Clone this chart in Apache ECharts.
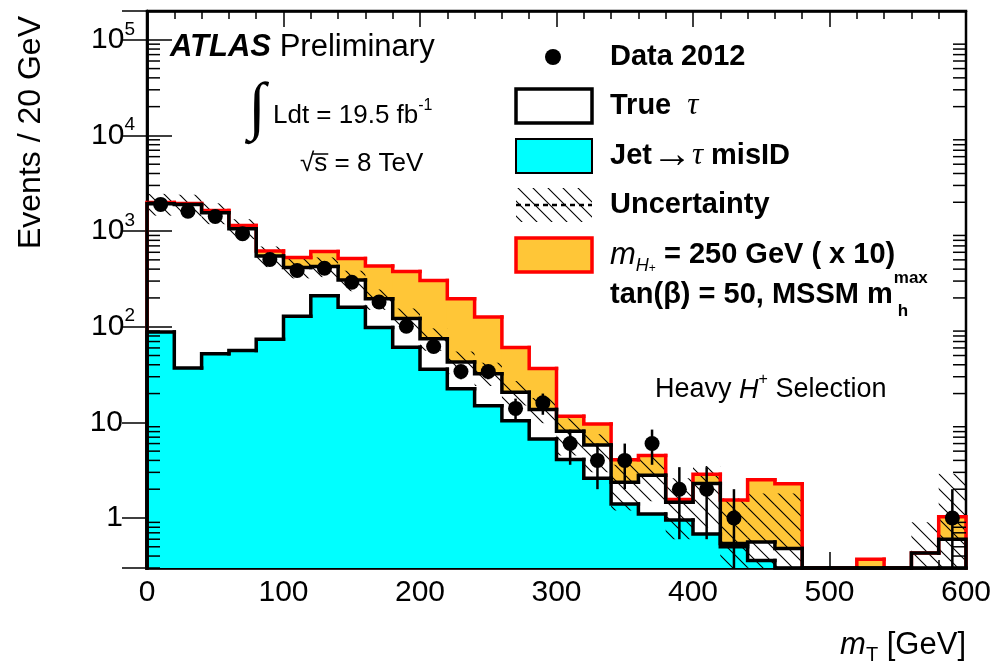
<!DOCTYPE html>
<html>
<head>
<meta charset="utf-8">
<title>mT heavy H+ selection</title>
<script src="https://cdn.jsdelivr.net/npm/echarts@6/dist/echarts.min.js"></script>
<style>
  html, body { margin: 0; padding: 0; background: #fff; }
  #chart { width: 997px; height: 666px; }
</style>
</head>
<body>
<div id="chart"></div>
<script>
// lower edges of the 20 GeV bins
const binLow = [0, 20, 40, 60, 80, 100, 120, 140, 160, 180, 200, 220, 240, 260, 280,
  300, 320, 340, 360, 380, 400, 420, 440, 460, 480, 500, 520, 540, 560, 580];

// stacked backgrounds (events / 20 GeV)
const jetFake = [88, 37, 52, 56.5, 74, 129, 211, 160, 98, 61, 36, 22.4, 14.9, 10.4, 6.7,
  4.1, 2.6, 1.4, 1.1, 0.95, 0.68, 0.5, 0.36, 0, 0, 0, 0, 0, 0, 0];
const trueTau = [1840, 1860, 1500, 1000, 476, 288, 216, 147, 98, 61, 39, 20.3, 17.4, 10.3, 6.9,
  3.95, 3.2, 0.97, 1.7, 0.51, 1.61, 0.04, 0.2, 0.48, 0, 0, 0, 0, 0.43, 0.6];
// signal m_H+ = 250 GeV, scaled x10, stacked on top
const signalX10 = [62, 48, 88, 88, 70, 113, 185, 210, 236, 256, 230, 153, 94, 40, 23,
  3.5, 3.8, 1.7, 1.7, 0.1, 0.57, 1.0, 1.95, 1.8, 0, 0, 0.37, 0, 0, 0.43];

// data 2012 with error bars
const data2012 = [1900, 1610, 1420, 940, 505, 387, 409, 292, 181, 101, 62, 34, 34, 14, 16,
  6, 4, 4, 6, 2, 2, 1, null, null, null, null, null, null, null, 1];
const dataErr = [44, 40, 38, 31, 22, 20, 20, 17, 13, 10, 8, 5.8, 5.8, 3.7, 4,
  2.4, 2, 2, 2.4, 1.4, 1.4, 1, 0, 0, 0, 0, 0, 0, 0, 1];

// background uncertainty band
const uncLow = [1450, 1420, 1180, 820, 420, 320, 330, 235, 150, 92, 56, 32, 24, 15, 9.8,
  4.5, 3.0, 1.2, 1.5, 0.6, 0.8, 0.1, 0.1, 0.1, 0, 0, 0, 0, 0.1, 0.1];
const uncHigh = [2450, 2400, 1950, 1330, 690, 520, 530, 385, 245, 155, 96, 55, 42, 27, 18,
  11, 7.5, 3.6, 4.6, 2.6, 3.5, 1.6, 1.8, 1.8, 0, 0, 0, 0, 0.9, 2.9];

const xTicks = [0, 100, 200, 300, 400, 500, 600];

const BIN_W = 20;
const Y_MIN = 0.3;
const Y_MAX = 2e5;
const FONT = '"Liberation Sans", Arial, Helvetica, sans-serif';
const SERIF = '"Liberation Serif", "Times New Roman", serif';
const CYAN = '#00ffff';
const ORANGE = '#ffc637';
const RED = '#ff0000';

const totalBkg = jetFake.map((v, i) => v + trueTau[i]);
const totalSig = totalBkg.map((v, i) => v + signalX10[i]);
const clampY = v => Math.max(v, Y_MIN);

function makeHatch() {
  const s = 15;
  const c = document.createElement('canvas');
  c.width = s; c.height = s;
  const g = c.getContext('2d');
  g.strokeStyle = '#000';
  g.lineWidth = 1.1;
  g.beginPath();
  g.moveTo(-1, -1); g.lineTo(s + 1, s + 1);
  g.moveTo(-1, s - 1); g.lineTo(1, s + 1);
  g.moveTo(s - 1, -1); g.lineTo(s + 1, 1);
  g.stroke();
  return { image: c, repeat: 'repeat' };
}
const hatch = makeHatch();

function textWidth(txt, font) {
  const g = document.createElement('canvas').getContext('2d');
  g.font = font;
  return g.measureText(txt).width;
}

// filled rectangle per bin between two levels (tiny overlap hides seams)
function fillSeries(name, lowArr, highArr, fill, z, overlap) {
  return {
    type: 'custom', name, z, silent: true,
    data: binLow.map((x, i) => [x, x + BIN_W, clampY(lowArr[i]), clampY(highArr[i])]),
    encode: { x: [0, 1], y: [2, 3] },
    renderItem: (params, api) => {
      const lo = api.value(2), hi = api.value(3);
      if (!(hi > lo)) return null;
      const p0 = api.coord([api.value(0), hi]);
      const p1 = api.coord([api.value(1), lo]);
      return {
        type: 'rect',
        shape: { x: p0[0] - overlap, y: p0[1], width: p1[0] - p0[0] + 2 * overlap, height: p1[1] - p0[1] },
        style: { fill: fill, stroke: null }
      };
    }
  };
}

// stepped histogram outline
function outlineSeries(name, vals, color, width, z) {
  return {
    type: 'custom', name, z, silent: true,
    data: binLow.map((x, i) => [x, x + BIN_W, clampY(vals[i]), clampY(i > 0 ? vals[i - 1] : 0)]),
    encode: { x: [0, 1], y: [2, 3] },
    renderItem: (params, api) => {
      const xL = api.value(0), xR = api.value(1);
      const y = api.value(2), yPrev = api.value(3);
      const pts = [api.coord([xL, yPrev]), api.coord([xL, y]), api.coord([xR, y])];
      if (params.dataIndex === binLow.length - 1) pts.push(api.coord([xR, Y_MIN]));
      return {
        type: 'polyline',
        shape: { points: pts },
        style: { stroke: color, lineWidth: width, fill: 'none', lineCap: 'square', lineJoin: 'miter' }
      };
    }
  };
}

// log-spaced minor ticks for the y axis (left and right frame)
const yMinor = [];
for (let e = -1; e <= 5; e++) {
  for (let m = 2; m <= 9; m++) {
    const v = m * Math.pow(10, e);
    if (v > Y_MIN && v < Y_MAX) yMinor.push(v);
  }
}

const chart = echarts.init(document.getElementById('chart'), null, { renderer: 'canvas' });

const sigFont = 'bold 29px ' + FONT;
const tanText = 'tan(\u03b2) = 50, MSSM m';
const tanW = textWidth(tanText, sigFont);

const option = {
  animation: false,
  backgroundColor: '#fff',
  grid: {
    left: 147, right: 31, top: 11, bottom: 98,
    show: true, borderColor: '#000', borderWidth: 2.5, backgroundColor: 'transparent'
  },
  xAxis: [
    {
      type: 'value', min: 0, max: 600, interval: 100, position: 'bottom',
      axisLine: { show: true, lineStyle: { color: '#000', width: 2.5 } },
      axisTick: { show: true, inside: true, length: 16, lineStyle: { color: '#000', width: 1.5 } },
      minorTick: { show: true, splitNumber: 5, length: 8, lineStyle: { color: '#000', width: 1.5 } },
      axisLabel: {
        color: '#000', fontSize: 30, fontFamily: FONT, margin: 10,
        formatter: v => (xTicks.indexOf(v) >= 0 ? String(v) : '')
      },
      splitLine: { show: false }
    },
    {
      type: 'value', min: 0, max: 600, interval: 100, position: 'top',
      axisLine: { show: true, lineStyle: { color: '#000', width: 2.5 } },
      axisTick: { show: true, inside: true, length: 16, lineStyle: { color: '#000', width: 1.5 } },
      minorTick: { show: true, splitNumber: 5, length: 8, lineStyle: { color: '#000', width: 1.5 } },
      axisLabel: { show: false },
      splitLine: { show: false }
    }
  ],
  yAxis: [
    {
      type: 'log', logBase: 10, min: Y_MIN, max: Y_MAX, position: 'left',
      axisLine: { show: true, lineStyle: { color: '#000', width: 2.5 } },
      axisTick: { show: true, inside: true, length: 25, lineStyle: { color: '#000', width: 1.5 } },
      axisLabel: {
        color: '#000', margin: 12, showMinLabel: false, showMaxLabel: false,
        formatter: v => {
          const e = Math.round(Math.log10(v));
          if (e === 0) return '{p|1}';
          if (e === 1) return '{p|10}';
          return '{b|10}{s|' + e + '}';
        },
        rich: {
          b: { fontSize: 30, fontFamily: FONT, color: '#000', lineHeight: 40 },
          p: { fontSize: 30, fontFamily: FONT, color: '#000', lineHeight: 40, padding: [0, 12, 0, 0] },
          s: { fontSize: 19, fontFamily: FONT, color: '#000', lineHeight: 19, verticalAlign: 'top' }
        }
      },
      splitLine: { show: false }
    },
    {
      type: 'log', logBase: 10, min: Y_MIN, max: Y_MAX, position: 'right',
      axisLine: { show: true, lineStyle: { color: '#000', width: 2.5 } },
      axisTick: { show: true, inside: true, length: 25, lineStyle: { color: '#000', width: 1.5 } },
      axisLabel: { show: false },
      splitLine: { show: false }
    }
  ],
  series: [
    fillSeries('Jet->tau misID', binLow.map(() => 0), jetFake, CYAN, 1, 0.6),
    fillSeries('signal x10', totalBkg, totalSig, ORANGE, 2, 0.6),
    fillSeries('Uncertainty', uncLow.map((v, i) => (uncHigh[i] > 0 ? v : 0)), uncHigh, hatch, 3, 0),
    outlineSeries('signal outline', totalSig, RED, 3.5, 4),
    outlineSeries('true tau outline', totalBkg, '#000', 3.5, 5),
    outlineSeries('jet outline', jetFake, '#000', 3.5, 5),
    {
      type: 'custom', name: 'data errors', z: 6, silent: true,
      data: binLow.map((x, i) => (data2012[i] == null ? null :
        [x + BIN_W / 2, clampY(data2012[i] - dataErr[i]), clampY(data2012[i] + dataErr[i])])
      ).filter(d => d),
      encode: { x: 0, y: [1, 2] },
      renderItem: (params, api) => {
        const a = api.coord([api.value(0), api.value(1)]);
        const b = api.coord([api.value(0), api.value(2)]);
        return { type: 'line', shape: { x1: a[0], y1: a[1], x2: b[0], y2: b[1] },
          style: { stroke: '#000', lineWidth: 2.5 } };
      }
    },
    {
      type: 'scatter', name: 'Data 2012', z: 7, silent: true,
      symbol: 'circle', symbolSize: 15,
      itemStyle: { color: '#000', opacity: 1 },
      data: binLow.map((x, i) => (data2012[i] == null ? null : [x + BIN_W / 2, data2012[i]])).filter(d => d)
    },
    {
      type: 'custom', name: 'y minor ticks', z: 8, silent: true,
      data: yMinor.map(v => [0, v]),
      encode: { x: 0, y: 1 },
      renderItem: (params, api) => {
        const l = api.coord([0, api.value(1)]);
        const r = api.coord([600, api.value(1)]);
        return {
          type: 'group',
          children: [
            { type: 'line', shape: { x1: l[0], y1: l[1], x2: l[0] + 13, y2: l[1] }, style: { stroke: '#000', lineWidth: 1.5 } },
            { type: 'line', shape: { x1: r[0] - 13, y1: r[1], x2: r[0], y2: r[1] }, style: { stroke: '#000', lineWidth: 1.5 } }
          ]
        };
      }
    }
  ],
  graphic: [
    // axis titles
    { type: 'text', x: 31, y: 16, rotation: Math.PI / 2, z: 100,
      style: { text: 'Events / 20 GeV', fontSize: 32, fontFamily: FONT, fill: '#000',
        align: 'right', textAlign: 'right', verticalAlign: 'middle', textVerticalAlign: 'middle' } },
    { type: 'text', x: 966, y: 645, z: 100,
      style: { text: '{m|m}{s|T}{n| [GeV]}', align: 'right', textAlign: 'right',
        verticalAlign: 'middle', textVerticalAlign: 'middle',
        rich: {
          m: { fontSize: 31, fontFamily: FONT, fontStyle: 'italic', lineHeight: 40, fill: '#000' },
          s: { fontSize: 20, fontFamily: FONT, lineHeight: 20, verticalAlign: 'bottom', fill: '#000' },
          n: { fontSize: 31, fontFamily: FONT, lineHeight: 40, fill: '#000' }
        } } },
    // ATLAS label
    { type: 'text', x: 170, y: 47, z: 100,
      style: { text: '{a|ATLAS }{p|Preliminary}', verticalAlign: 'middle', textVerticalAlign: 'middle',
        rich: {
          a: { fontSize: 31, fontFamily: FONT, fontWeight: 'bold', fontStyle: 'italic', fill: '#000' },
          p: { fontSize: 31, fontFamily: FONT, fill: '#000' }
        } } },
    { type: 'text', x: 257, y: 110, z: 100,
      style: { text: '\u222b', fontSize: 64, fontFamily: SERIF, fill: '#000',
        align: 'center', textAlign: 'center', verticalAlign: 'middle', textVerticalAlign: 'middle' } },
    { type: 'text', x: 273, y: 116, z: 100,
      style: { text: '{n|Ldt = 19.5 fb}{s|-1}', verticalAlign: 'middle', textVerticalAlign: 'middle',
        rich: {
          n: { fontSize: 26, fontFamily: FONT, lineHeight: 36, fill: '#000' },
          s: { fontSize: 16, fontFamily: FONT, lineHeight: 16, verticalAlign: 'top', fill: '#000' }
        } } },
    { type: 'text', x: 300, y: 164, z: 100,
      style: { text: '\u221as = 8 TeV', fontSize: 26, fontFamily: FONT, fill: '#000',
        verticalAlign: 'middle', textVerticalAlign: 'middle' } },
    { type: 'line', z: 100,
      shape: { x1: 300 + textWidth('\u221a', '26px ' + FONT) - 2, y1: 154,
        x2: 300 + textWidth('\u221as', '26px ' + FONT) + 1, y2: 154 },
      style: { stroke: '#000', lineWidth: 1.5 } },
    // selection label
    { type: 'text', x: 655, y: 390, z: 100,
      style: { text: '{n|Heavy }{i|H}{s|+}{n| Selection}', verticalAlign: 'middle', textVerticalAlign: 'middle',
        rich: {
          n: { fontSize: 27, fontFamily: FONT, lineHeight: 36, fill: '#000' },
          i: { fontSize: 27, fontFamily: FONT, fontStyle: 'italic', lineHeight: 36, fill: '#000' },
          s: { fontSize: 16, fontFamily: FONT, lineHeight: 16, verticalAlign: 'top', fill: '#000' }
        } } },
    // legend
    { type: 'circle', z: 100, shape: { cx: 553, cy: 57, r: 8 }, style: { fill: '#000' } },
    { type: 'rect', z: 100, shape: { x: 516, y: 89, width: 76, height: 34 },
      style: { fill: '#fff', stroke: '#000', lineWidth: 3.5 } },
    { type: 'rect', z: 100, shape: { x: 516, y: 139, width: 76, height: 34 },
      style: { fill: CYAN, stroke: '#000', lineWidth: 2 } },
    { type: 'rect', z: 100, shape: { x: 516, y: 188, width: 76, height: 34 },
      style: { fill: hatch } },
    { type: 'line', z: 101, shape: { x1: 516, y1: 205, x2: 592, y2: 205 },
      style: { stroke: '#000', lineWidth: 2.5, lineDash: [5, 4] } },
    { type: 'rect', z: 100, shape: { x: 516, y: 238, width: 76, height: 34 },
      style: { fill: ORANGE, stroke: RED, lineWidth: 3.5 } },
    { type: 'text', x: 610, y: 57, z: 100,
      style: { text: 'Data 2012', font: sigFont, fill: '#000', verticalAlign: 'middle', textVerticalAlign: 'middle' } },
    { type: 'text', x: 610, y: 106, z: 100,
      style: { text: '{b|True  }{t|\u03c4}', verticalAlign: 'middle', textVerticalAlign: 'middle',
        rich: {
          b: { fontSize: 29, fontWeight: 'bold', fontFamily: FONT, fill: '#000' },
          t: { fontSize: 31, fontStyle: 'italic', fontFamily: SERIF, fill: '#000' }
        } } },
    { type: 'text', x: 610, y: 156, z: 100,
      style: { text: '{b|Jet}{a|\u2192}{t|\u03c4}{b| misID}', verticalAlign: 'middle', textVerticalAlign: 'middle',
        rich: {
          b: { fontSize: 29, fontWeight: 'bold', fontFamily: FONT, fill: '#000', lineHeight: 40 },
          a: { fontSize: 40, fontFamily: SERIF, fill: '#000', lineHeight: 40 },
          t: { fontSize: 31, fontStyle: 'italic', fontFamily: SERIF, fill: '#000', lineHeight: 40 }
        } } },
    { type: 'text', x: 610, y: 205, z: 100,
      style: { text: 'Uncertainty', font: sigFont, fill: '#000', verticalAlign: 'middle', textVerticalAlign: 'middle' } },
    { type: 'text', x: 610, y: 255, z: 100,
      style: { text: '{m|m}{h|H}{p|+}{b| = 250 GeV ( x 10)}', verticalAlign: 'middle', textVerticalAlign: 'middle',
        rich: {
          m: { fontSize: 31, fontStyle: 'italic', fontFamily: FONT, lineHeight: 40, fill: '#000' },
          h: { fontSize: 18, fontStyle: 'italic', fontFamily: FONT, lineHeight: 18, verticalAlign: 'bottom', fill: '#000' },
          p: { fontSize: 12, fontFamily: FONT, lineHeight: 30, verticalAlign: 'bottom', fill: '#000' },
          b: { fontSize: 29, fontWeight: 'bold', fontFamily: FONT, lineHeight: 40, fill: '#000' }
        } } },
    { type: 'text', x: 610, y: 295, z: 100,
      style: { text: tanText, font: sigFont, fill: '#000', verticalAlign: 'middle', textVerticalAlign: 'middle' } },
    { type: 'text', x: 610 + tanW + 1, y: 287, z: 100,
      style: { text: 'max', font: 'bold 17px ' + FONT, fill: '#000', verticalAlign: 'bottom', textVerticalAlign: 'bottom' } },
    { type: 'text', x: 610 + tanW + 5, y: 303, z: 100,
      style: { text: 'h', font: 'bold 17px ' + FONT, fill: '#000', verticalAlign: 'top', textVerticalAlign: 'top' } }
  ]
};

chart.setOption(option);
window.addEventListener('resize', chart.resize);
</script>
</body>
</html>
